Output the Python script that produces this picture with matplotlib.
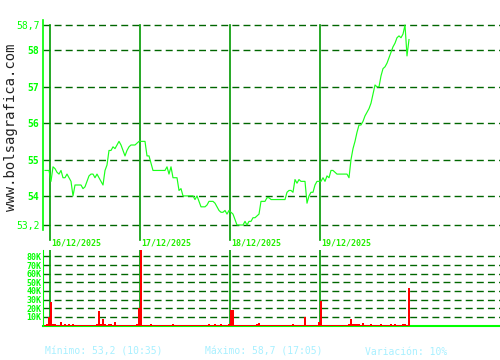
import matplotlib.pyplot as plt
import numpy as np

# cotizacion intradia (4 sesiones), un dato cada ~5 min
precio = [54.7, 54.7, 54.7, 54.4, 54.8, 54.75, 54.65, 54.6, 54.7, 54.5,
          54.5, 54.6, 54.5, 54.4, 54.0, 54.3, 54.3, 54.3, 54.3, 54.2,
          54.25, 54.4, 54.55, 54.6, 54.6, 54.5, 54.6, 54.5, 54.4, 54.3,
          54.7, 54.85, 55.25, 55.25, 55.35, 55.3, 55.4, 55.5, 55.4, 55.25,
          55.1, 55.25, 55.35, 55.4, 55.4, 55.4, 55.45, 55.5, 55.5, 55.5,
          55.5, 55.1, 55.1, 54.9, 54.7, 54.7, 54.7, 54.7, 54.7, 54.7,
          54.7, 54.8, 54.6, 54.8, 54.5, 54.5, 54.5, 54.15, 54.2, 54.0,
          54.0, 54.0, 54.0, 54.0, 54.0, 53.9, 54.0, 53.85, 53.7, 53.7,
          53.7, 53.75, 53.85, 53.85, 53.85, 53.8, 53.7, 53.6, 53.55, 53.55,
          53.6, 53.5, 53.6, 53.55, 53.5, 53.35, 53.2, 53.2, 53.2, 53.2,
          53.3, 53.2, 53.3, 53.3, 53.4, 53.4, 53.45, 53.5, 53.85, 53.85,
          53.85, 53.95, 53.95, 53.9, 53.9, 53.9, 53.9, 53.9, 53.9, 53.9,
          53.9, 54.1, 54.15, 54.15, 54.1, 54.45, 54.35, 54.45, 54.4, 54.4,
          54.4, 53.8, 54.0, 54.1, 54.1, 54.3, 54.4, 54.4, 54.4, 54.5,
          54.4, 54.55, 54.5, 54.7, 54.7, 54.65, 54.6, 54.6, 54.6, 54.6,
          54.6, 54.6, 54.5, 55.0, 55.3, 55.5, 55.75, 55.95, 55.95, 56.05,
          56.2, 56.3, 56.4, 56.55, 56.8, 57.05, 57.0, 57.0, 57.3, 57.5,
          57.55, 57.65, 57.8, 57.95, 58.1, 58.2, 58.35, 58.4, 58.35, 58.45,
          58.7, 57.85, 58.3]

# volumen en miles
volumen = [1, 1.5, 10, 27, 2, 1.5, 1, 1, 3.5, 1,
           1.5, 1, 1.5, 1, 2, 1, 1, 1, 1, 1,
           1, 1, 1, 1, 1, 1, 1.5, 16.5, 2, 7,
           1.5, 1, 1.5, 1.5, 1, 3.5, 1, 1, 1, 1,
           1, 1, 1, 1, 1, 1, 1.5, 20, 87, 1,
           1, 1, 1, 1.5, 1, 1, 1, 1, 1, 1,
           1, 1, 1, 1, 1.5, 1, 1, 1, 1, 1,
           1, 1, 1, 1, 1, 1, 1, 1, 1, 1,
           1, 1, 1.5, 1, 1, 1.5, 1, 1, 2, 1,
           1, 1, 2, 18, 18, 1, 1, 1, 1, 1,
           1, 1, 1, 1, 1, 1, 2, 2.5, 1, 1,
           1, 1, 1, 1, 1, 1, 1, 1, 1, 1,
           1, 1, 1, 1, 2, 1, 1, 1, 1, 1,
           9.5, 1, 1, 1, 1, 1, 1, 4, 28, 1,
           1, 1, 1, 1, 1, 1, 1, 1, 1, 1,
           1, 1, 2, 7, 2, 2, 2, 2, 1, 2.5,
           1, 1, 1, 1.5, 1, 1, 1, 1, 1.5, 1,
           1, 1, 1, 2, 1, 1.5, 1, 1, 1, 2,
           1.5, 1, 43]

dias = ["16/12/2025", "17/12/2025", "18/12/2025", "19/12/2025"]
inicio_dia = [2.5, 47.5, 92.5, 137.5]
ticks_precio = [53.2, 54, 55, 56, 57, 58, 58.7]
ticks_vol = [10, 20, 30, 40, 50, 60, 70, 80]

verde = '#00ff00'
verde_osc = '#006600'
verde_dia = '#009900'
mono = 'DejaVu Sans Mono'

x = np.arange(len(precio))

fig = plt.figure(figsize=(5, 3.6), dpi=100)
fig.patch.set_facecolor('white')

# panel de precio
ax = fig.add_axes([43/500, 130/360, 457/500, 210/360])
ax.plot(x, precio, color='#1aff1a', lw=0.85, zorder=3)
ax.set_xlim(-1, 227.5)
ax.set_ylim(53.0625, 58.8375)
ax.set_yticks(ticks_precio)
ax.set_yticklabels([str(t).replace('.', ',') for t in ticks_precio])
for lab, t in zip(ax.get_yticklabels(), ticks_precio):
    lab.set_color(verde)
    lab.set_family(mono)
    lab.set_fontsize(7)
    if t != int(t):
        lab.set_fontweight('normal')
    else:
        lab.set_fontweight('bold')
ax.tick_params(axis='y', length=0, pad=2.5)
ax.set_xticks([])
for t in ticks_precio:
    ax.axhline(t, color=verde_osc, lw=1.0, ls=(0, (5, 3)), zorder=1)
for s in ['top', 'right', 'bottom']:
    ax.spines[s].set_visible(False)
ax.spines['left'].set_color(verde)
ax.spines['left'].set_linewidth(1.2)
tr = ax.get_xaxis_transform()
for d, lab in zip(inicio_dia, dias):
    ax.plot([d, d], [0.976, -0.048], transform=tr, color=verde_dia, lw=1.2,
            clip_on=False, zorder=2)
    ax.text(d + 0.8, -0.06, lab, transform=tr, color='#22ee00', fontsize=6,
            family=mono, fontweight='bold', va='center', ha='left')

# panel de volumen
av = fig.add_axes([43/500, 34.5/360, 457/500, 75.5/360])
av.bar(x, volumen, width=0.8, color='red', lw=0, zorder=3)
av.set_xlim(-1, 227.5)
av.set_ylim(0, 87.5)
av.set_yticks(ticks_vol)
av.set_yticklabels([f"{t}K" for t in ticks_vol])
for lab in av.get_yticklabels():
    lab.set_color(verde)
    lab.set_family(mono)
    lab.set_fontsize(6)
    lab.set_fontweight('bold')
av.tick_params(axis='y', length=0, pad=1)
av.set_xticks([])
for t in ticks_vol:
    av.axhline(t, color=verde_osc, lw=1.0, ls=(0, (5, 3)), zorder=1)
for d in inicio_dia:
    av.axvline(d, color=verde_dia, lw=1.2, zorder=2)
for s in ['top', 'right']:
    av.spines[s].set_visible(False)
av.spines['left'].set_color(verde)
av.spines['bottom'].set_color(verde)
av.spines['bottom'].set_linewidth(1.5)

# marca y resumen
fig.text(11/500, 1 - 127/360, "www.bolsagrafica.com", rotation=90, fontsize=10,
         family=mono, color='#222222', ha='center', va='center')
azul = '#a8f0ff'
fig.text(45/500, 1 - 352/360, "Mínimo: 53,2 (10:35)", fontsize=7, family=mono,
         color=azul, va='center', ha='left')
fig.text(205/500, 1 - 352/360, "Máximo: 58,7 (17:05)", fontsize=7, family=mono,
         color=azul, va='center', ha='left')
fig.text(365/500, 1 - 352/360, "Variación: 10%", fontsize=7, family=mono,
         color=azul, va='center', ha='left')

fig.savefig("out.png", dpi=100, facecolor='white')
